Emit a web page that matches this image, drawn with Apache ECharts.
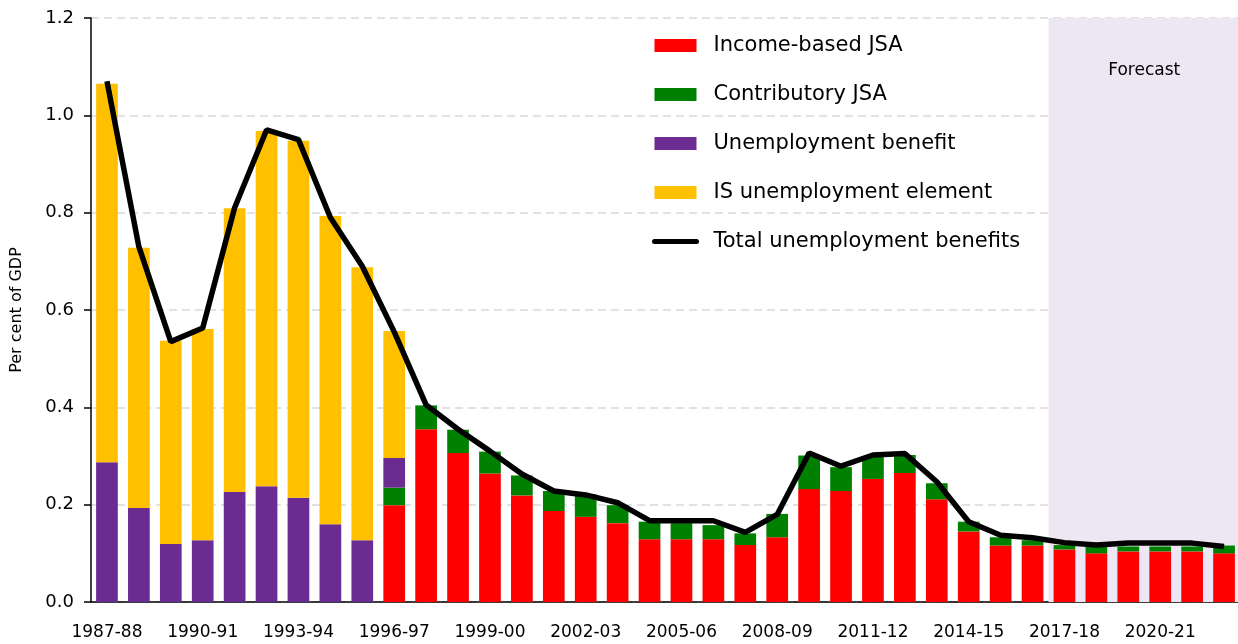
<!DOCTYPE html>
<html>
<head>
<meta charset="utf-8">
<script src="https://cdn.jsdelivr.net/npm/echarts@6/dist/echarts.min.js"></script>
<style>
  html, body { margin: 0; padding: 0; background: #fff; }
  #chart { width: 1238px; height: 644px; }
</style>
</head>
<body>
<div id="chart"></div>
<script>
const years = [
  '1987-88', '1988-89', '1989-90', '1990-91', '1991-92', '1992-93', '1993-94', '1994-95', '1995-96',
  '1996-97', '1997-98', '1998-99', '1999-00', '2000-01', '2001-02', '2002-03', '2003-04', '2004-05',
  '2005-06', '2006-07', '2007-08', '2008-09', '2009-10', '2010-11', '2011-12', '2012-13', '2013-14',
  '2014-15', '2015-16', '2016-17', '2017-18', '2018-19', '2019-20', '2020-21', '2021-22', '2022-23'
];

// per cent of GDP, stacked from the bottom
const incomeJSA = [
  0, 0, 0, 0, 0, 0, 0, 0, 0,
  0.199, 0.355, 0.306, 0.264, 0.219, 0.187, 0.175, 0.162, 0.129,
  0.129, 0.129, 0.117, 0.133, 0.232, 0.228, 0.253, 0.265, 0.211,
  0.145, 0.116, 0.116, 0.108, 0.100, 0.104, 0.104, 0.104, 0.100
];
const contribJSA = [
  0, 0, 0, 0, 0, 0, 0, 0, 0,
  0.036, 0.049, 0.048, 0.045, 0.041, 0.041, 0.046, 0.037, 0.036,
  0.033, 0.029, 0.024, 0.048, 0.069, 0.049, 0.046, 0.037, 0.033,
  0.020, 0.017, 0.011, 0.009, 0.014, 0.010, 0.010, 0.010, 0.016
];
const unempBenefit = [
  0.287, 0.193, 0.119, 0.127, 0.226, 0.238, 0.214, 0.160, 0.127,
  0.061, 0, 0, 0, 0, 0, 0, 0, 0,
  0, 0, 0, 0, 0, 0, 0, 0, 0,
  0, 0, 0, 0, 0, 0, 0, 0, 0
];
const isElement = [
  0.778, 0.535, 0.418, 0.434, 0.583, 0.730, 0.734, 0.633, 0.561,
  0.261, 0, 0, 0, 0, 0, 0, 0, 0,
  0, 0, 0, 0, 0, 0, 0, 0, 0,
  0, 0, 0, 0, 0, 0, 0, 0, 0
];
const totalBenefits = [
  1.07, 0.73, 0.535, 0.563, 0.81, 0.97, 0.95, 0.79, 0.69,
  0.555, 0.405, 0.355, 0.31, 0.263, 0.228, 0.22, 0.204, 0.167,
  0.167, 0.167, 0.143, 0.18, 0.306, 0.279, 0.302, 0.305, 0.247,
  0.165, 0.137, 0.132, 0.122, 0.117, 0.121, 0.121, 0.121, 0.114
];

// forecast period, in category positions (start of 2017-18 to end of 2022-23)
const forecastStart = 30;
const forecastEnd = 36;

const FONT = 'DejaVu Sans';
const chart = echarts.init(document.getElementById('chart'), null, { renderer: 'canvas' });

const barSeries = (name, data, color) => ({
  name: name,
  type: 'bar',
  stack: 'total',
  data: data,
  barCategoryGap: '32%',
  itemStyle: { color: color },
  emphasis: { disabled: true }
});

chart.setOption({
  animation: false,
  textStyle: { fontFamily: FONT },
  grid: { left: 91, top: 18, width: 1149, bottom: 42, containLabel: false, outerBoundsMode: 'none' },
  legend: {
    orient: 'vertical',
    left: 647,
    top: 30,
    itemWidth: 42,
    itemHeight: 13,
    itemGap: 28,
    textStyle: { fontFamily: FONT, fontSize: 21, color: '#000', padding: [0, 0, 0, 12] },
    data: [
      { name: 'Income-based JSA', icon: 'rect' },
      { name: 'Contributory JSA', icon: 'rect' },
      { name: 'Unemployment benefit', icon: 'rect' },
      { name: 'IS unemployment element', icon: 'rect' },
      { name: 'Total unemployment benefits', itemStyle: { opacity: 0 }, lineStyle: { width: 5, cap: 'round' } }
    ]
  },
  xAxis: [
    {
      type: 'category',
      data: years,
      axisLine: { lineStyle: { color: '#000', width: 1.5 } },
      axisTick: { interval: 0, length: 7, lineStyle: { color: '#000', width: 1.5 } },
      axisLabel: { interval: 2, fontSize: 17, color: '#000', margin: 22, fontFamily: FONT }
    },
    {
      type: 'value',
      min: 0,
      max: 36,
      show: false
    }
  ],
  yAxis: {
    type: 'value',
    min: 0,
    max: 1.2,
    interval: 0.2,
    name: 'Per cent of GDP',
    nameLocation: 'middle',
    nameGap: 66,
    nameTextStyle: { fontSize: 16, color: '#000', fontFamily: FONT },
    axisLine: { show: true, lineStyle: { color: '#000', width: 1.5 } },
    axisTick: { show: true, length: 7, lineStyle: { color: '#000', width: 1.5 } },
    axisLabel: { fontSize: 18, color: '#000', margin: 17, fontFamily: FONT, formatter: v => v.toFixed(1) },
    splitLine: { lineStyle: { color: '#d9d9d9', type: [8, 5], width: 1.5 } }
  },
  series: [
    {
      name: 'forecast',
      type: 'line',
      xAxisIndex: 1,
      data: [],
      silent: true,
      markArea: {
        silent: true,
        itemStyle: { color: '#ece7f2' },
        label: {
          show: true,
          position: 'insideTop',
          distance: 44,
          fontSize: 17,
          color: '#000',
          fontFamily: FONT
        },
        data: [[
          { name: 'Forecast', xAxis: forecastStart, yAxis: 0 },
          { xAxis: forecastEnd, yAxis: 1.2 }
        ]]
      },
      z: 0
    },
    barSeries('Income-based JSA', incomeJSA, '#ff0000'),
    barSeries('Contributory JSA', contribJSA, '#008000'),
    barSeries('Unemployment benefit', unempBenefit, '#6b2c91'),
    barSeries('IS unemployment element', isElement, '#ffc000'),
    {
      name: 'Total unemployment benefits',
      type: 'line',
      data: totalBenefits,
      symbol: 'none',
      lineStyle: { color: '#000', width: 5.5 },
      itemStyle: { color: '#000' },
      z: 5
    }
  ]
});
</script>
</body>
</html>
